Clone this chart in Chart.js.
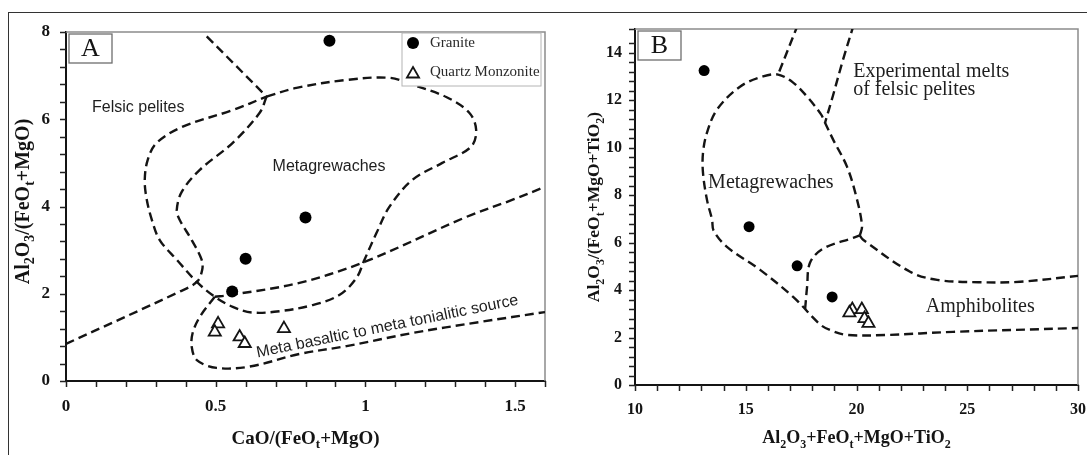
<!DOCTYPE html>
<html>
<head>
<meta charset="utf-8">
<script src="https://cdn.jsdelivr.net/npm/chart.js@4.4.0/dist/chart.umd.min.js"></script>
<style>
  html, body { margin: 0; padding: 0; background: #fff; }
  #fig { position: relative; width: 1087px; height: 455px; overflow: hidden; background: #fff; }
  #frame { position: absolute; left: 8px; top: 12px; width: 1100px; height: 500px;
           border-left: 1.5px solid #333; border-top: 1.5px solid #333; }
  #wrapA { position: absolute; left: 0; top: 0; width: 560px; height: 455px; }
  #wrapB { position: absolute; left: 560px; top: 0; width: 527px; height: 455px; }
  canvas { display: block; }
</style>
</head>
<body>
<div id="fig">
  <div id="frame"></div>
  <div id="wrapA"><canvas id="chartA" width="560" height="455"></canvas></div>
  <div id="wrapB"><canvas id="chartB" width="527" height="455"></canvas></div>
</div>
<script>
// ---------- Panel A: Al2O3/(FeOt+MgO) vs CaO/(FeOt+MgO) ----------
const graniteA    = [[0.88, 7.8], [0.80, 3.75], [0.60, 2.8], [0.555, 2.05]];
const monzoniteA  = [[0.508, 1.31], [0.497, 1.12], [0.58, 1.01], [0.597, 0.86], [0.728, 1.2]];
const felsicTopA  = [[0.47, 7.9], [0.67, 6.52]];
const felsicLineA = [[0.67, 6.52], [0.647, 6.15], [0.557, 5.46], [0.447, 4.84], [0.387, 4.34],
                     [0.37, 3.92], [0.38, 3.69], [0.42, 3.23], [0.453, 2.78], [0.455, 2.55],
                     [0.437, 2.27], [0.38, 2.05], [0.0, 0.85]];
const greywackeLoopA = [[0.67, 6.52], [0.77, 6.72], [0.937, 6.9], [1.08, 6.95], [1.157, 6.79],
                     [1.27, 6.51], [1.347, 6.15], [1.37, 5.76], [1.353, 5.37], [1.257, 5.0],
                     [1.157, 4.61], [1.08, 3.99], [1.037, 3.39], [0.997, 2.78], [0.97, 2.36],
                     [0.913, 1.97], [0.823, 1.74], [0.713, 1.6], [0.62, 1.57], [0.557, 1.70],
                     [0.497, 1.93], [0.437, 2.27], [0.37, 2.78], [0.313, 3.23], [0.287, 3.69],
                     [0.27, 4.15], [0.263, 4.6], [0.273, 5.07], [0.303, 5.46], [0.39, 5.83],
                     [0.557, 6.21], [0.67, 6.52]];
const basaltUpperA = [[0.497, 1.93], [0.547, 1.97], [0.78, 2.25], [0.997, 2.73], [1.337, 3.76],
                     [1.49, 4.15], [1.6, 4.45]];
const basaltLowerA = [[0.497, 1.93], [0.447, 1.47], [0.423, 1.10], [0.42, 0.78], [0.437, 0.48],
                     [0.503, 0.30], [0.613, 0.33], [0.78, 0.62], [0.937, 0.8], [1.157, 1.1],
                     [1.38, 1.35], [1.6, 1.58]];

// ---------- Panel B: Al2O3/(FeOt+MgO+TiO2) vs Al2O3+FeOt+MgO+TiO2 ----------
const graniteB    = [[13.12, 13.25], [15.15, 6.67], [17.32, 5.02], [18.9, 3.71]];
const monzoniteB  = [[19.81, 3.18], [20.24, 3.18], [19.68, 3.04], [20.36, 2.8], [20.54, 2.6]];
const pelitesLeftB  = [[17.36, 15.2], [16.46, 13.08]];
const pelitesRightB = [[19.88, 15.2], [19.39, 13.7], [18.94, 12.2], [18.58, 11.05]];
const greywackeB  = [[20.15, 6.3], [20.25, 6.7], [20.0, 7.9], [19.57, 9.2], [18.94, 10.35],
                     [18.58, 11.05], [18.4, 11.4], [17.77, 12.15], [17.14, 12.74], [16.46, 13.08],
                     [15.78, 13.0], [14.74, 12.57], [13.7, 11.6], [13.25, 10.63], [13.07, 9.79],
                     [13.07, 8.94], [13.25, 7.8], [13.48, 6.96], [13.55, 6.5], [14.15, 5.82],
                     [15.65, 4.85], [17.14, 3.71], [18.36, 2.55], [18.8, 2.32], [19.57, 2.11],
                     [21.38, 2.11], [24.36, 2.24], [30, 2.4]];
const amphLeftB   = [[17.68, 3.2], [17.77, 4.14], [17.9, 5.15], [18.5, 5.75], [19.85, 6.2], [20.15, 6.3]];
const amphRightB  = [[20.15, 6.3], [20.3, 6.12], [22.42, 4.77], [23.64, 4.43], [25.5, 4.33],
                     [27.39, 4.35], [30, 4.6]];

// ---------- shared styling ----------
const SERIF = "'Liberation Serif', 'Times New Roman', serif";
const SANS  = "'Liberation Sans', Arial, sans-serif";
const INK = '#141414';

const pts = arr => arr.map(([x, y]) => ({ x, y }));

function boundary(arr) {
  return {
    data: pts(arr), showLine: true, fill: false, tension: 0.35,
    borderColor: INK, borderWidth: 2.4, borderDash: [9, 5],
    pointRadius: 0, pointHoverRadius: 0, order: 3
  };
}
function granite(arr, r) {
  return { label: 'Granite', data: pts(arr), showLine: false, pointStyle: 'circle',
           pointRadius: r, pointHoverRadius: r, backgroundColor: '#000', borderColor: '#000',
           borderWidth: 0, order: 0 };
}
function monzonite(arr) {
  return { label: 'Quartz Monzonite', data: pts(arr), showLine: false, pointStyle: 'triangle',
           pointRadius: 7, pointHoverRadius: 7, backgroundColor: '#fff', borderColor: INK,
           borderWidth: 1.8, order: 0 };
}

function majorEvery(step, fmt) {
  return v => (Math.abs(v / step - Math.round(v / step)) < 1e-6 ? fmt(v) : '');
}

// fixed axis band sizes, no extra edge padding for overhanging labels
const fixX = h => s => { s.height = h; s.paddingLeft = 0; s.paddingRight = 0; };
const fixY = w => s => { s.width = w; s.paddingTop = 0; s.paddingBottom = 0; };

function axis(min, max, step, labelFn, fontSize, pad, fit) {
  return {
    type: 'linear', min, max,
    afterFit: fit,
    ticks: { stepSize: step, autoSkip: false, maxRotation: 0, padding: pad, color: INK,
             font: { family: SERIF, weight: 'bold', size: fontSize }, callback: labelFn },
    grid: { display: false, drawOnChartArea: false, tickLength: 8 },
    border: { display: true, color: INK, width: 2 }
  };
}

// rich text with subscripts: parts = [[text, isSub], ...]
function drawRich(ctx, parts, x, y, size, weight, font, rot) {
  ctx.save();
  ctx.translate(x, y);
  if (rot) ctx.rotate(rot);
  const sub = Math.round(size * 0.68);
  let total = 0;
  const widths = parts.map(([t, s]) => {
    ctx.font = `${weight} ${s ? sub : size}px ${font}`;
    const w = ctx.measureText(t).width;
    total += w;
    return w;
  });
  let cx = -total / 2;
  ctx.textAlign = 'left';
  ctx.textBaseline = 'alphabetic';
  ctx.fillStyle = INK;
  parts.forEach(([t, s], i) => {
    ctx.font = `${weight} ${s ? sub : size}px ${font}`;
    ctx.fillText(t, cx, size * 0.35 + (s ? size * 0.25 : 0));
    cx += widths[i];
  });
  ctx.restore();
}

const decor = {
  id: 'decor',
  beforeDatasetsDraw(chart) {
    const { ctx, chartArea: a, scales } = chart;
    ctx.save();
    // grey top/right frame of the plot area
    ctx.strokeStyle = '#8c8c8c';
    ctx.lineWidth = 1.5;
    ctx.beginPath();
    ctx.moveTo(a.left, a.top);
    ctx.lineTo(a.right, a.top);
    ctx.lineTo(a.right, a.bottom);
    ctx.stroke();
    // outward tick marks on every scale tick
    ctx.strokeStyle = '#222';
    ctx.lineWidth = 1.5;
    ctx.beginPath();
    scales.x.ticks.forEach(t => {
      const px = Math.round(scales.x.getPixelForValue(t.value)) + 0.5;
      ctx.moveTo(px, a.bottom);
      ctx.lineTo(px, a.bottom + 6);
    });
    scales.y.ticks.forEach(t => {
      const py = Math.round(scales.y.getPixelForValue(t.value)) + 0.5;
      ctx.moveTo(a.left, py);
      ctx.lineTo(a.left - 6, py);
    });
    ctx.stroke();
    ctx.restore();
  },
  afterDraw(chart, args, o) {
    const { ctx, chartArea: a, scales } = chart;
    const sx = scales.x, sy = scales.y;
    ctx.save();

    // field names
    o.fields.forEach(f => {
      ctx.save();
      ctx.translate(sx.getPixelForValue(f.x), sy.getPixelForValue(f.y));
      if (f.rot) ctx.rotate(f.rot);
      ctx.font = f.font;
      ctx.fillStyle = '#1e1e1e';
      ctx.textAlign = 'left';
      ctx.textBaseline = 'middle';
      ctx.fillText(f.text, 0, 0);
      ctx.restore();
    });

    // panel letter box
    const bx = a.left + 3, by = a.top + 2, bw = 43, bh = 29;
    ctx.fillStyle = '#fff';
    ctx.fillRect(bx, by, bw, bh);
    ctx.strokeStyle = '#6e6e6e';
    ctx.lineWidth = 1.3;
    ctx.strokeRect(bx, by, bw, bh);
    ctx.fillStyle = INK;
    ctx.font = `26px ${SERIF}`;
    ctx.textAlign = 'center';
    ctx.textBaseline = 'middle';
    ctx.fillText(o.letter, bx + bw / 2, by + bh / 2 + 1);

    // legend
    if (o.legend) {
      const lw = 139, lh = 53;
      const lx = a.right - 4 - lw, ly = a.top + 1;
      ctx.fillStyle = '#fff';
      ctx.fillRect(lx, ly, lw, lh);
      ctx.strokeStyle = '#b4b4b4';
      ctx.lineWidth = 1;
      ctx.strokeRect(lx, ly, lw, lh);
      [0, 1].forEach((i, k) => {
        const ds = chart.data.datasets[i];
        const py = ly + 10 + k * 29;
        ctx.save();
        ctx.fillStyle = ds.backgroundColor;
        ctx.strokeStyle = ds.borderColor;
        ctx.lineWidth = ds.borderWidth;
        Chart.helpers.drawPoint(ctx, { pointStyle: ds.pointStyle, rotation: 0,
          radius: ds.pointStyle === 'circle' ? 6 : 7, borderWidth: ds.borderWidth }, lx + 11, py + (k ? 2 : 0));
        ctx.restore();
        ctx.fillStyle = '#2a2a2a';
        ctx.font = `15px ${SERIF}`;
        ctx.textAlign = 'left';
        ctx.textBaseline = 'middle';
        ctx.fillText(ds.label, lx + 28, py);
      });
    }

    // axis titles
    drawRich(ctx, o.xTitle, (a.left + a.right) / 2, o.xTitleY, o.xTitleSize, 'bold', SERIF, 0);
    drawRich(ctx, o.yTitle, o.yTitleX, (a.top + a.bottom) / 2 + (o.yTitleDy || 0), o.yTitleSize, 'bold', SERIF, -Math.PI / 2);
    ctx.restore();
  }
};

function baseOptions(pad, scales, decorOpts) {
  return {
    responsive: false, devicePixelRatio: 1, animation: false, events: [],
    layout: { padding: pad },
    scales,
    plugins: { legend: { display: false }, tooltip: { enabled: false }, decor: decorOpts }
  };
}

// ---------- chart A ----------
new Chart(document.getElementById('chartA'), {
  type: 'scatter',
  data: {
    datasets: [
      granite(graniteA, 6),
      monzonite(monzoniteA),
      boundary(felsicTopA),
      boundary(felsicLineA),
      boundary(greywackeLoopA),
      boundary(basaltUpperA),
      boundary(basaltLowerA)
    ]
  },
  options: baseOptions({ top: 32, right: 15, left: 0, bottom: 0 }, {
    x: axis(0, 1.6, 0.1, majorEvery(0.5, v => String(+v.toFixed(1))), 17, 7, fixX(74)),
    y: axis(0, 8, 0.4, majorEvery(2, v => String(Math.round(v))), 17, 8, fixY(66))
  }, {
    letter: 'A',
    legend: true,
    fields: [
      { text: 'Felsic pelites', x: 0.087, y: 6.26, font: `16px ${SANS}` },
      { text: 'Metagrewaches', x: 0.69, y: 4.91, font: `16px ${SANS}` },
      { text: 'Meta basaltic to meta tonialitic source', x: 0.637, y: 0.64, rot: -0.2, font: `16px ${SANS}` }
    ],
    xTitle: [['CaO/(FeO', 0], ['t', 1], ['+MgO)', 0]],
    xTitleY: 437, xTitleSize: 19,
    yTitle: [['Al', 0], ['2', 1], ['O', 0], ['3', 1], ['/(FeO', 0], ['t', 1], ['+MgO)', 0]],
    yTitleX: 22, yTitleDy: -5, yTitleSize: 20
  }),
  plugins: [decor]
});

// ---------- chart B ----------
new Chart(document.getElementById('chartB'), {
  type: 'scatter',
  data: {
    datasets: [
      granite(graniteB, 5.5),
      monzonite(monzoniteB),
      boundary(pelitesLeftB),
      boundary(pelitesRightB),
      boundary(greywackeB),
      boundary(amphLeftB),
      boundary(amphRightB)
    ]
  },
  options: baseOptions({ top: 29, right: 9, left: 0, bottom: 0 }, {
    x: axis(10, 30, 1, majorEvery(5, v => String(Math.round(v))), 16, 7, fixX(70)),
    y: axis(0, 15, 0.4, majorEvery(2, v => String(Math.round(v))), 16, 5, fixY(75))
  }, {
    letter: 'B',
    legend: false,
    fields: [
      { text: 'Metagrewaches', x: 13.3, y: 8.52, font: `20px ${SERIF}` },
      { text: 'Experimental melts', x: 19.85, y: 13.2, font: `20px ${SERIF}` },
      { text: 'of felsic pelites', x: 19.85, y: 12.45, font: `20px ${SERIF}` },
      { text: 'Amphibolites', x: 23.13, y: 3.29, font: `20px ${SERIF}` }
    ],
    xTitle: [['Al', 0], ['2', 1], ['O', 0], ['3', 1], ['+FeO', 0], ['t', 1], ['+MgO+TiO', 0], ['2', 1]],
    xTitleY: 437, xTitleSize: 18,
    yTitle: [['Al', 0], ['2', 1], ['O', 0], ['3', 1], ['/(FeO', 0], ['t', 1], ['+MgO+TiO', 0], ['2', 1], [')', 0]],
    yTitleX: 33, yTitleSize: 17.5
  }),
  plugins: [decor]
});
</script>
</body>
</html>
